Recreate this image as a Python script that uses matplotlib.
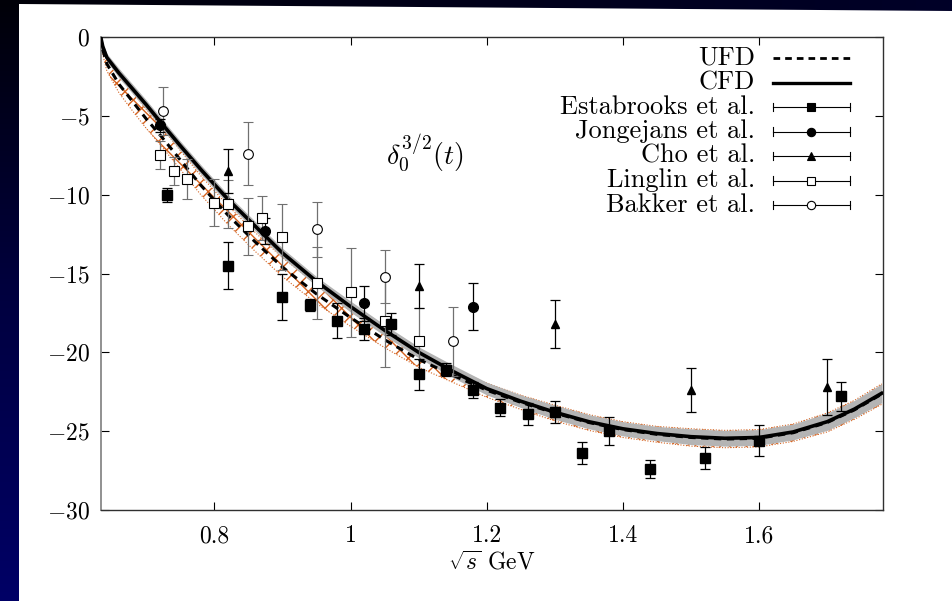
import numpy as np
import matplotlib
matplotlib.use("Agg")
import matplotlib.pyplot as plt
from matplotlib.patches import Polygon

plt.rcParams['font.family'] = 'serif'
plt.rcParams['font.serif'] = ['cmr10', 'DejaVu Serif']
plt.rcParams['mathtext.fontset'] = 'cm'
plt.rcParams['axes.formatter.use_mathtext'] = True
plt.rcParams['hatch.linewidth'] = 1.0

# curves: CFD (solid, grey band) and UFD (dashed, orange hatched band)
curve_x = [0.633, 0.636, 0.642, 0.66, 0.68, 0.70, 0.72, 0.75, 0.78, 0.82, 0.86, 0.90,
           0.95, 1.00, 1.05, 1.10, 1.15, 1.20, 1.25, 1.30, 1.35, 1.40, 1.45, 1.50,
           1.55, 1.60, 1.65, 1.70, 1.74, 1.78]
cfd_y = [0.0, -0.6, -1.3, -2.3, -3.3, -4.3, -5.35, -6.9, -8.4, -10.3, -12.0, -13.7,
         -15.5, -17.1, -18.6, -20.0, -21.2, -22.3, -23.1, -23.8, -24.4, -24.85, -25.15, -25.35,
         -25.45, -25.4, -25.05, -24.4, -23.6, -22.6]
cfd_err = [0.0, 0.2, 0.25, 0.3, 0.3, 0.3, 0.3, 0.3, 0.3, 0.3, 0.3, 0.3,
           0.3, 0.35, 0.35, 0.35, 0.4, 0.4, 0.4, 0.45, 0.45, 0.45, 0.45, 0.5,
           0.5, 0.5, 0.5, 0.55, 0.55, 0.6]
ufd_y = [0.0, -0.8, -1.7, -3.0, -4.1, -5.2, -6.2, -7.8, -9.4, -11.3, -13.0, -14.6,
         -16.3, -17.8, -19.2, -20.45, -21.45, -22.4, -23.17, -23.85, -24.45, -24.9, -25.2, -25.4,
         -25.5, -25.45, -25.1, -24.45, -23.65, -22.65]
ufd_err = [0.0, 0.3, 0.45, 0.55, 0.6, 0.6, 0.6, 0.6, 0.6, 0.6, 0.6, 0.6,
           0.6, 0.55, 0.5, 0.5, 0.45, 0.45, 0.45, 0.5, 0.5, 0.5, 0.5, 0.55,
           0.55, 0.55, 0.55, 0.6, 0.6, 0.65]

# data sets
est_x = [0.73, 0.82, 0.90, 0.94, 0.98, 1.02, 1.06, 1.10, 1.14, 1.18, 1.22, 1.26,
         1.30, 1.34, 1.38, 1.44, 1.52, 1.60, 1.72]
est_y = [-10.0, -14.5, -16.5, -17.0, -18.0, -18.5, -18.2, -21.4, -21.1, -22.4, -23.5, -23.9,
         -23.8, -26.4, -25.0, -27.4, -26.7, -25.6, -22.8]
est_e = [0.45, 1.5, 1.45, 0.4, 1.1, 0.7, 0.7, 1.0, 0.4, 0.5, 0.55, 0.7,
         0.7, 0.7, 0.9, 0.6, 0.7, 1.0, 0.95]

jon_x = [0.72, 0.875, 1.02, 1.18]
jon_y = [-5.6, -12.3, -16.9, -17.1]
jon_e = [0.4, 0.8, 1.1, 1.5]

cho_x = [0.82, 1.10, 1.30, 1.50, 1.70]
cho_y = [-8.5, -15.8, -18.2, -22.4, -22.2]
cho_e = [1.4, 1.4, 1.5, 1.4, 1.8]

lin_x = [0.72, 0.74, 0.76, 0.80, 0.82, 0.85, 0.87, 0.90, 0.95, 1.00, 1.05, 1.10]
lin_y = [-7.5, -8.5, -9.0, -10.5, -10.6, -12.0, -11.5, -12.7, -15.6, -16.2, -18.0, -19.3]
lin_e = [0.9, 0.9, 1.25, 1.5, 1.5, 1.8, 1.4, 2.1, 2.3, 2.8, 2.9, 2.1]

bak_x = [0.725, 0.85, 0.95, 1.05, 1.15]
bak_y = [-4.7, -7.4, -12.2, -15.2, -19.3]
bak_e = [1.5, 2.0, 1.75, 1.7, 2.2]

x_ticks = [0.8, 1.0, 1.2, 1.4, 1.6]
x_ticklabels = ['0.8', '1', '1.2', '1.4', '1.6']
y_ticks = [0, -5, -10, -15, -20, -25, -30]

fig = plt.figure(figsize=(9.53, 6.01), dpi=100)
fig.patch.set_facecolor('white')

# dark slide background strips
bg = fig.add_axes([0, 0, 1, 1], zorder=-10)
bg.set_xlim(0, 953)
bg.set_ylim(601, 0)
bg.axis('off')
grad = np.linspace(0, 1, 256).reshape(-1, 1)
left_cmap = matplotlib.colors.LinearSegmentedColormap.from_list('lb', ['#000008', '#000040', '#000066'])
bg.imshow(grad, extent=[0, 19, 601, 0], aspect='auto', cmap=left_cmap)
top_cmap = matplotlib.colors.LinearSegmentedColormap.from_list('tb', ['#000008', '#00001a', '#000028'])
gimg = bg.imshow(np.linspace(0, 1, 256).reshape(1, -1), extent=[0, 953, 12, 0], aspect='auto', cmap=top_cmap)
clip = Polygon([[0, 0], [953, 0], [953, 11], [19, 4], [0, 4]], closed=True, transform=bg.transData)
gimg.set_clip_path(clip)

ax = fig.add_axes([100.7 / 953, 91 / 601, 782.3 / 953, 473 / 601])

cx = np.array(curve_x)
cy = np.array(cfd_y)
ce = np.array(cfd_err)
uy = np.array(ufd_y)
ue = np.array(ufd_err)

orange = '#d4621f'
ax.fill_between(cx, uy - ue, uy + ue, facecolor='none', edgecolor=orange, hatch='xx', lw=0, zorder=1)
ax.plot(cx, uy - ue, color=orange, lw=0.8, ls=(0, (1, 1.5)), zorder=1)
ax.plot(cx, uy + ue, color=orange, lw=0.8, ls=(0, (1, 1.5)), zorder=1)
ax.fill_between(cx, cy - ce, cy + ce, color='#b4b4b4', lw=0, zorder=2)
ax.plot(cx, uy, color='black', lw=2.2, ls=(0, (2.4, 1.8)), zorder=3)
ax.plot(cx, cy, color='black', lw=2.6, zorder=4)

eb = dict(ls='none', elinewidth=0.9, capsize=3.5, capthick=0.9, zorder=5)
ax.errorbar(lin_x, lin_y, yerr=lin_e, fmt='s', ms=7, mfc='white', mec='black', mew=0.8,
            ecolor='#707070', **eb)
ax.errorbar(bak_x, bak_y, yerr=bak_e, fmt='o', ms=7, mfc='white', mec='black', mew=0.8,
            ecolor='#707070', **eb)
ax.errorbar(est_x, est_y, yerr=est_e, fmt='s', ms=7, color='black', ecolor='black', **eb)
ax.errorbar(jon_x, jon_y, yerr=jon_e, fmt='o', ms=7, color='black', ecolor='black', **eb)
ax.errorbar(cho_x, cho_y, yerr=cho_e, fmt='^', ms=6, color='black', ecolor='black', **eb)

ax.set_xlim(0.633, 1.782)
ax.set_ylim(-30, 0)
ax.set_xticks(x_ticks)
ax.set_xticklabels(x_ticklabels)
ax.set_yticks(y_ticks)
ax.tick_params(direction='in', length=6, width=0.8, top=True, right=True, labelsize=17, pad=11)
ax.tick_params(axis='y', pad=8)
for s in ['top', 'right', 'bottom']:
    ax.spines[s].set_color('#303030')
    ax.spines[s].set_linewidth(1.0)
ax.spines['left'].set_color('#888888')
ax.spines['left'].set_linewidth(1.3)
ax.set_xlabel(r'$\sqrt{s}$ GeV', fontsize=17, labelpad=3)

ax.text(1.109, -7.4, r'$\delta_0^{3/2}(t)$', fontsize=20, ha='center', va='center')

# legend, gnuplot style
labels = ['UFD', 'CFD', 'Estabrooks et al.', 'Jongejans et al.', 'Cho et al.',
          'Linglin et al.', 'Bakker et al.']
tx = (755 - 100.7) / 782.3
lx0 = (773 - 100.7) / 782.3
lx1 = (850 - 100.7) / 782.3
lxm = (lx0 + lx1) / 2
styles = [None, None, ('s', 'black'), ('o', 'black'), ('^', 'black'), ('s', 'white'), ('o', 'white')]
for i, lab in enumerate(labels):
    yy = (510 - (58 + 24.5 * i)) / 473
    ax.text(tx, yy, lab, transform=ax.transAxes, ha='right', va='center', fontsize=19)
    if i == 0:
        ax.plot([lx0, lx1], [yy, yy], transform=ax.transAxes, color='black', lw=2.0,
                ls=(0, (2.4, 1.8)))
    elif i == 1:
        ax.plot([lx0, lx1], [yy, yy], transform=ax.transAxes, color='black', lw=2.4)
    else:
        m, fc = styles[i]
        ax.plot([lx0, lx1], [yy, yy], transform=ax.transAxes, color='black', lw=0.8)
        for xe in (lx0, lx1):
            ax.plot([xe, xe], [yy - 0.009, yy + 0.009], transform=ax.transAxes, color='black', lw=0.8)
        ax.plot([lxm], [yy], transform=ax.transAxes, marker=m, ms=6, mfc=fc, mec='black', mew=0.8,
                color='black')

fig.savefig('out.png', dpi=100, facecolor='white')
